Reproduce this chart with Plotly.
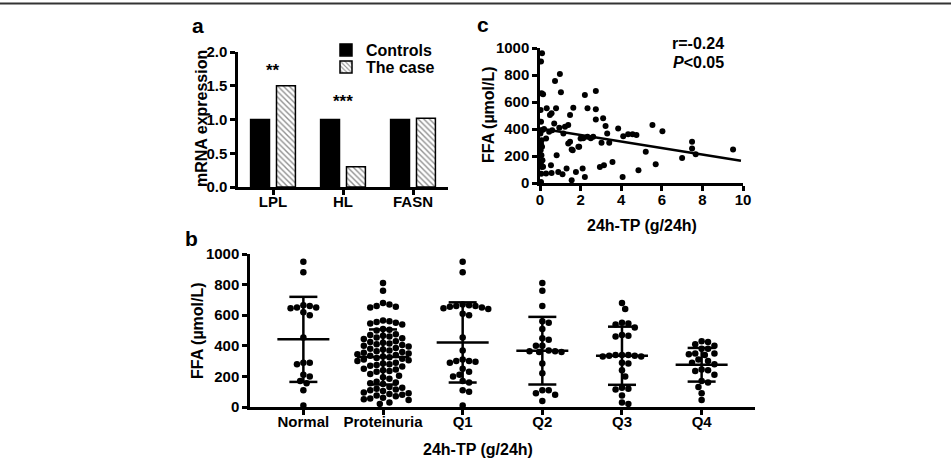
import plotly.graph_objects as go
import numpy as np

W, H = 951, 462
FONT = "Liberation Sans, Arial, sans-serif"


def px(x):
    return x / W


def py(y):
    return 1 - y / H


# ---------------- data ----------------
# panel a
genes = ["LPL", "HL", "FASN"]
controls = [1.0, 1.0, 1.0]
the_case = [1.5, 0.3, 1.02]
sig_text = ["**", "***"]
sig_pos_y = [1.73, 1.27]

# panel b
groups = ["Normal", "Proteinuria", "Q1", "Q2", "Q3", "Q4"]
normal_ffa = [950, 880, 665, 660, 650, 645, 650, 620, 600, 455, 290, 290, 280,
              210, 200, 170, 155, 110, 10]
proteinuria_ffa = [810, 760, 680, 670, 660, 655, 650, 565, 560, 555, 550, 545,
                   540, 510, 505, 500, 475, 470, 465, 460, 455, 450, 445, 430,
                   425, 420, 415, 410, 405, 400, 395, 385, 380, 375, 370, 365,
                   360, 355, 350, 345, 340, 335, 330, 325, 320, 315, 310, 305,
                   300, 290, 285, 280, 275, 270, 265, 250, 245, 240, 235, 230,
                   215, 205, 195, 185, 165, 160, 155, 150, 130, 125, 120, 115,
                   110, 105, 95, 90, 85, 80, 75, 70, 60, 55, 50, 45, 30, 20]
q1_ffa = [950, 880, 670, 665, 660, 660, 655, 650, 645, 640, 610, 600, 455, 370,
          310, 300, 300, 295, 290, 250, 230, 210, 200, 170, 160, 110, 100, 10]
q2_ffa = [810, 760, 660, 560, 550, 510, 450, 440, 400, 400, 370, 365, 365, 360,
          360, 285, 220, 110, 110, 90, 80, 40]
q3_ffa = [680, 640, 550, 545, 540, 520, 470, 465, 460, 340, 340, 340, 335, 335,
          330, 330, 290, 285, 240, 200, 125, 120, 115, 75, 30, 20]
q4_ffa = [430, 425, 410, 400, 380, 380, 350, 350, 345, 340, 310, 300, 290, 280,
          245, 240, 235, 210, 170, 160, 130, 90, 45]
group_values = [normal_ffa, proteinuria_ffa, q1_ffa, q2_ffa, q3_ffa, q4_ffa]
group_mean = [442, 327, 422, 368, 335, 276]
group_sd = [278, 180, 262, 221, 190, 110]

# panel c
tp = [0.10, 0.05, 0.08, 0.15, 0.03, 0.05, 0.12, 0.02, 0.08, 0.05, 0.10, 0.03,
      0.07, 0.12, 0.04, 0.09, 0.06, 0.05,
      0.33, 0.49, 0.57, 0.79, 0.70, 0.74, 0.98, 1.03, 0.82, 0.54, 0.57, 0.90,
      1.11, 1.31, 1.15, 1.23, 1.39, 1.48, 1.64, 1.48, 1.39, 1.61, 1.56, 1.77,
      1.93, 2.00, 2.10, 2.21, 2.21, 2.34, 2.34, 2.75, 2.75, 2.75, 2.62, 2.95,
      3.15, 3.11, 3.23, 3.31, 3.41, 3.03, 3.57, 3.85, 4.07, 4.10, 4.34, 4.56,
      4.75, 4.85, 5.21, 5.54, 5.70, 6.03, 7.00, 7.49, 7.49, 7.67, 9.51,
      0.20, 0.45, 0.60, 0.30, 0.95, 2.50, 2.13, 1.89, 1.56, 0.15, 0.30]
ffa = [962, 900, 665, 657, 540, 454, 392, 367, 317, 288, 268, 243, 206, 169,
       144, 119, 69, 7,
       553, 503, 516, 553, 441, 756, 808, 672, 206, 131, 74, 82,
       64, 107, 367, 417, 429, 503, 558, 305, 293, 243, 20, 82,
       268, 330, 107, 45, 652, 553, 342, 682, 546, 471, 342, 119,
       131, 479, 422, 367, 298, 298, 156, 404, 45, 347, 362, 362,
       355, 94, 231, 429, 139, 384, 186, 305, 255, 213, 248,
       400, 380, 390, 330, 410, 331, 331, 269, 249, 120, 70]
fit_intercept = 404
fit_slope = -24.2
fit_x_range = [0, 9.9]

# ---------------- geometry ----------------
a_x = [px(238), px(448)]
a_y = [py(187), py(52)]
c_x = [px(540), px(743)]
c_y = [py(183), py(48)]
b_x = [px(250), px(755)]
b_y = [py(407), py(254)]
B_RANGE = [-0.67, 5.67]
b_px_per_x = 505 / (B_RANGE[1] - B_RANGE[0])
b_px_per_v = 153 / 1000.0


def swarm_offsets(vals, ppx, ppv, d):
    vals = np.asarray(vals, float)
    order = np.argsort(-vals, kind="stable")
    placed = []
    offs = np.zeros(len(vals))
    step = d * 0.5
    cands = [0.0]
    for j in range(1, 60):
        cands += [j * step, -j * step]
    for i in order:
        yv = vals[i] * ppv
        for c in cands:
            ok = True
            for (xp, yp) in placed:
                if (xp - c) ** 2 + (yp - yv) ** 2 < d ** 2:
                    ok = False
                    break
            if ok:
                placed.append((c, yv))
                offs[i] = c / ppx
                break
    return offs


fig = go.Figure()

# ---- panel a ----
fig.add_trace(go.Bar(
    x=genes, y=controls, name="Controls", xaxis="x", yaxis="y",
    legend="legend",
    marker=dict(color="black", line=dict(color="black", width=1.5)),
))
fig.add_trace(go.Bar(
    x=genes, y=the_case, name="The case", xaxis="x", yaxis="y",
    legend="legend2",
    marker=dict(color="white", line=dict(color="black", width=1.5),
                pattern=dict(shape="\\", fgcolor="#222", bgcolor="white",
                             size=4, solidity=0.35)),
))

# ---- panel b ----
for gi, vals in enumerate(group_values):
    offs = swarm_offsets(vals, b_px_per_x, b_px_per_v, 6.4)
    fig.add_trace(go.Scatter(
        x=gi + offs, y=vals, mode="markers", xaxis="x2", yaxis="y2",
        marker=dict(color="black", size=6.5), showlegend=False,
        hoverinfo="skip"))
    m, s = group_mean[gi], group_sd[gi]
    hw_mean = 26 / b_px_per_x
    hw_cap = 14 / b_px_per_x
    xs = [gi - hw_mean, gi + hw_mean, None,
          gi - hw_cap, gi + hw_cap, None,
          gi - hw_cap, gi + hw_cap, None,
          gi, gi]
    ys = [m, m, None, m + s, m + s, None, m - s, m - s, None, m - s, m + s]
    fig.add_trace(go.Scatter(
        x=xs, y=ys, mode="lines", xaxis="x2", yaxis="y2",
        line=dict(color="black", width=2.5), showlegend=False,
        connectgaps=False, hoverinfo="skip"))

# ---- panel c ----
fig.add_trace(go.Scatter(
    x=tp, y=ffa, mode="markers", xaxis="x3", yaxis="y3",
    marker=dict(color="black", size=6), showlegend=False))
fx = np.array(fit_x_range)
fig.add_trace(go.Scatter(
    x=fx, y=fit_intercept + fit_slope * fx, mode="lines", xaxis="x3",
    yaxis="y3", line=dict(color="black", width=2.5), showlegend=False))

tickfont = dict(family=FONT, size=15, color="black", weight="bold")
axis_common = dict(showline=True, linecolor="black", linewidth=2.5,
                   ticks="outside", ticklen=5, tickwidth=2.5,
                   tickcolor="black", showgrid=False, zeroline=False,
                   tickfont=tickfont, fixedrange=True, automargin=False)

legfont = dict(family=FONT, size=16, color="black", weight="bold")
fig.update_layout(
    width=W, height=H,
    margin=dict(l=0, r=0, t=0, b=0, pad=0, autoexpand=False),
    paper_bgcolor="white", plot_bgcolor="white",
    font=dict(family=FONT, color="black", weight="bold"),
    barmode="group", bargap=0.26, bargroupgap=0.27,
    showlegend=True,
    legend=dict(x=px(326), y=py(50), xanchor="left", yanchor="middle",
                font=legfont, bgcolor="rgba(0,0,0,0)", itemclick=False),
    legend2=dict(x=px(326), y=py(67), xanchor="left", yanchor="middle",
                 font=legfont, bgcolor="rgba(0,0,0,0)", itemclick=False),
    xaxis=dict(domain=a_x, anchor="y", range=[-0.5, 2.5],
               ticklabelstandoff=-6, **axis_common),
    yaxis=dict(domain=a_y, anchor="x", range=[0, 2.0], dtick=0.5,
               tickformat=".1f", **axis_common),
    xaxis2=dict(domain=b_x, anchor="y2", range=B_RANGE,
                tickvals=list(range(len(groups))), ticktext=groups,
                ticklabelstandoff=-6, **axis_common),
    yaxis2=dict(domain=b_y, anchor="x2", range=[0, 1000], dtick=200,
                **axis_common),
    xaxis3=dict(domain=c_x, anchor="y3", range=[0, 10], dtick=2,
                ticklabelstandoff=-4, **axis_common),
    yaxis3=dict(domain=c_y, anchor="x3", range=[0, 1000], dtick=200,
                **axis_common),
)

ann = []
lab = dict(family=FONT, size=16, color="black", weight="bold")
center = dict(xanchor="center", yanchor="middle", showarrow=False)
# significance stars
for g, t, yv in zip(genes, sig_text, sig_pos_y):
    ann.append(dict(x=g, y=yv, xref="x", yref="y", text=t,
                    font=dict(family=FONT, size=17, color="black",
                              weight="bold"), **center))
# panel letters
for t, x, y in [("a", 198, 26), ("c", 483, 24), ("b", 191, 238)]:
    ann.append(dict(x=px(x), y=py(y), xref="paper", yref="paper", text=t,
                    font=dict(family=FONT, size=21, color="black",
                              weight="bold"), **center))
# axis titles
ann.append(dict(x=px(201), y=py(119), xref="paper", yref="paper",
                text="mRNA expression", textangle=-90, font=lab, **center))
ann.append(dict(x=px(488), y=py(115), xref="paper", yref="paper",
                text="FFA (\u00b5mol/L)", textangle=-90, font=lab, **center))
ann.append(dict(x=px(197), y=py(331), xref="paper", yref="paper",
                text="FFA (\u00b5mol/L)", textangle=-90, font=lab, **center))
ann.append(dict(x=px(642), y=py(225), xref="paper", yref="paper",
                text="24h-TP (g/24h)", font=lab, **center))
ann.append(dict(x=px(478), y=py(449), xref="paper", yref="paper",
                text="24h-TP (g/24h)", font=lab, **center))
# r / P
ann.append(dict(x=px(698), y=py(43), xref="paper", yref="paper",
                text="r=-0.24", font=lab, **center))
ann.append(dict(x=px(698), y=py(62), xref="paper", yref="paper",
                text="<i>P</i><0.05", font=lab, **center))
fig.update_layout(annotations=ann)

fig.add_shape(type="line", xref="paper", yref="paper", x0=0, x1=1,
              y0=py(3.5), y1=py(3.5), line=dict(color="#333", width=2))

fig.write_html("out.html")
